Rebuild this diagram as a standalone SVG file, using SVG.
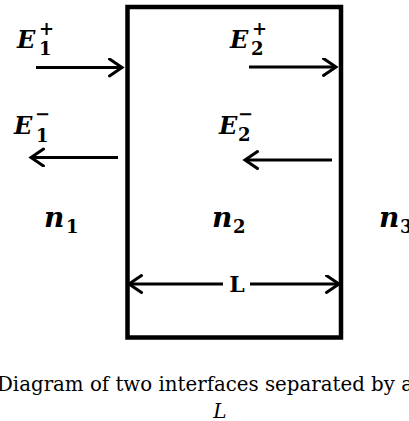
<svg xmlns="http://www.w3.org/2000/svg" width="409" height="421" viewBox="0 0 409 421">
<style>
.ln{stroke:#000;stroke-width:3;fill:none}
.box{stroke:#000;stroke-width:4.5;fill:none}
.m{font-family:"DejaVu Serif","Liberation Serif",serif;font-weight:bold;font-style:italic;fill:#000}
.E{font-size:24px}
.n{font-size:28px}
.s{font-family:"DejaVu Serif","Liberation Serif",serif;font-weight:bold;font-size:18px;fill:#000}
.cap{font-family:"DejaVu Serif","Liberation Serif",serif;font-size:20px;fill:#000}
</style>
<defs>
<marker id="ah" markerUnits="userSpaceOnUse" markerWidth="20" markerHeight="22" refX="14" refY="9.5" orient="auto" viewBox="0 0 20 22">
<path d="M1.5,1 L14,9.5 L1.5,18" fill="none" stroke="#000" stroke-width="3" stroke-linecap="round" stroke-linejoin="miter"/>
</marker>
</defs>
<g id="slab">
<rect class="box" x="127.5" y="7" width="213.5" height="330.5"/>
</g>
<g id="connectors">
<line class="ln" x1="36" y1="67.5" x2="122" y2="67.5" marker-end="url(#ah)"/>
<line class="ln" x1="249" y1="67" x2="336" y2="67" marker-end="url(#ah)"/>
<line class="ln" x1="118" y1="157.5" x2="31" y2="157.5" marker-end="url(#ah)"/>
<line class="ln" x1="332" y1="160" x2="245" y2="160" marker-end="url(#ah)"/>
<line class="ln" x1="223" y1="284" x2="129" y2="284" marker-end="url(#ah)"/>
<line class="ln" x1="250" y1="284" x2="339" y2="284" marker-end="url(#ah)"/>
</g>
<g id="E1p"><text class="m E" x="17" y="48">E</text><text class="s" x="39" y="35">+</text><text class="s" x="39" y="55">1</text></g>
<g id="E2p"><text class="m E" x="230" y="48">E</text><text class="s" x="252" y="35">+</text><text class="s" x="251" y="55">2</text></g>
<g id="E1m"><text class="m E" x="14" y="134">E</text><text class="s" x="35" y="120">−</text><text class="s" x="36" y="142">1</text></g>
<g id="E2m"><text class="m E" x="219" y="134">E</text><text class="s" x="238" y="120">−</text><text class="s" x="238" y="141">2</text></g>
<g id="n1"><text class="m n" x="44" y="227">n</text><text class="s" x="66" y="233">1</text></g>
<g id="n2"><text class="m n" x="212" y="227">n</text><text class="s" x="233" y="233">2</text></g>
<g id="n3"><text class="m n" x="379" y="227">n</text><text class="s" x="400" y="233">3</text></g>
<g id="Llabel"><text x="237" y="292" text-anchor="middle" style="font-family:'DejaVu Serif','Liberation Serif',serif;font-weight:bold;font-size:22px">L</text></g>
<g id="caption">
<text class="cap" x="205" y="391" text-anchor="middle" textLength="416" lengthAdjust="spacingAndGlyphs">Diagram of two interfaces separated by a</text>
<text class="cap" x="220" y="418" text-anchor="middle" font-style="italic">L</text>
</g>
</svg>
